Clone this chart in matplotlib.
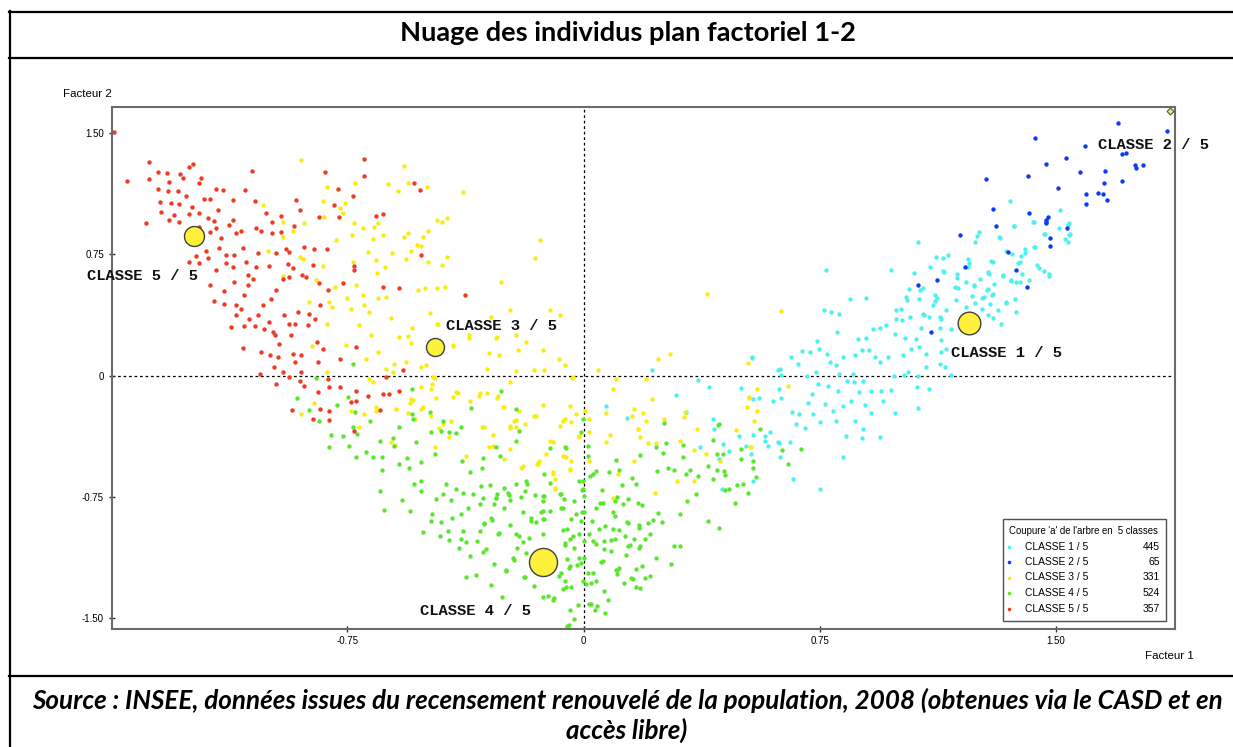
import numpy as np
import matplotlib
matplotlib.use("Agg")
import matplotlib.pyplot as plt
from matplotlib.lines import Line2D
from matplotlib.patches import Rectangle

plt.rcParams['axes.unicode_minus'] = False

# ---------------- DATA ----------------
class_names = ["CLASSE 1 / 5", "CLASSE 2 / 5", "CLASSE 3 / 5", "CLASSE 4 / 5", "CLASSE 5 / 5"]
class_counts = [445, 65, 331, 524, 357]
class_colors = ["#4ff0f0", "#0a3cf5", "#f8ec10", "#5ae62e", "#f03a24"]

class1_points = [
(0.769,0.652),(0.978,0.652),(1.062,0.828),(1.049,0.634),(1.102,0.673),(1.121,0.735),(1.142,0.646),(1.158,0.745),(1.186,0.631),(1.080,0.540),
(1.034,0.538),(1.025,0.486),(0.994,0.404),(1.009,0.414),(0.898,0.480),(0.847,0.476),(0.813,0.379),(0.787,0.393),(0.763,0.404),(0.806,0.269),
(0.743,0.213),(0.748,0.166),(0.695,0.151),(0.720,0.145),(0.658,0.114),(0.681,0.073),(0.623,0.041),(0.628,0.006),(0.534,0.106),(0.501,-0.077),
(0.557,-0.139),(0.602,-0.160),(0.628,-0.139),(0.586,-0.435),(0.575,-0.373),(0.591,-0.352),(0.617,-0.412),(0.655,-0.414),(0.625,-0.503),(0.667,-0.638),
(0.752,-0.704),(0.824,-0.503),(0.674,-0.298),(0.705,-0.326),(0.686,-0.238),(0.663,-0.228),(0.714,-0.168),(0.727,-0.114),(0.745,-0.052),(0.711,0.000),
(0.737,0.021),(0.774,0.135),(0.782,0.083),(0.803,0.068),(0.824,0.114),(0.811,0.010),(0.776,-0.062),(0.810,-0.099),(0.766,-0.176),(0.792,-0.217),
(0.801,-0.280),(0.750,-0.290),(0.729,-0.238),(0.861,0.124),(0.856,0.010),(0.837,-0.037),(0.858,-0.043),(0.888,-0.035),(0.875,-0.103),(0.851,-0.155),
(0.893,-0.180),(0.824,-0.186),(0.861,-0.280),(0.888,-0.331),(0.835,-0.373),(0.884,-0.387),(0.941,-0.381),(0.914,-0.234),(0.951,-0.155),(0.977,-0.087),
(0.946,-0.093),(0.914,-0.093),(0.991,-0.234),(1.062,-0.201),(1.059,-0.072),(1.099,-0.084),(1.018,0.006),(0.986,-0.006),(1.031,0.021),(1.062,-0.004),
(1.089,0.052),(1.131,0.073),(1.147,0.052),(1.168,0.006),(1.137,0.145),(1.153,0.166),(1.168,0.290),(1.131,0.296),(1.137,0.217),(1.089,0.135),
(1.066,0.176),(1.040,0.161),(1.014,0.124),(0.967,0.116),(0.941,0.081),(0.925,0.114),(0.906,0.155),(0.886,0.159),(0.872,0.224),(0.896,0.233),
(0.919,0.286),(0.941,0.296),(0.960,0.311),(0.988,0.255),(0.994,0.352),(1.013,0.342),(1.036,0.362),(1.020,0.232),(1.057,0.227),(1.071,0.296),
(1.080,0.379),(1.096,0.362),(1.110,0.435),(1.131,0.362),(1.122,0.480),(1.150,0.408),(1.190,0.543),(1.216,0.580),(1.239,0.553),(1.184,0.466),
(1.234,0.494),(1.216,0.424),(1.266,0.478),(1.290,0.441),(1.285,0.538),(1.301,0.507),(1.302,0.357),(1.325,0.321),(1.317,0.408),(1.343,0.449),
(1.375,0.393),(1.258,0.600),(1.288,0.631),(1.301,0.702),(1.225,0.699),(1.332,0.621),(1.362,0.752),(1.391,0.739),(1.380,0.694),(1.393,0.627),
(1.375,0.578),(1.359,0.584),(1.403,0.783),(1.433,0.797),(1.414,0.590),(1.447,0.665),(1.478,0.627),(1.539,0.932),(1.509,0.911),(1.544,0.876),
(1.539,0.828),(1.428,0.952),(1.465,0.876),(1.366,0.925),(1.320,0.855),(1.249,0.863),(1.356,1.081),(1.513,1.025),(1.430,0.948),(1.368,0.927),
(1.541,0.942),(1.541,0.873),(1.528,0.843),(1.463,0.874),(1.322,0.853),(1.256,0.890),(1.243,0.828),(1.430,0.795),(1.401,0.758),(1.343,0.772),
(1.388,0.704),(1.441,0.683),(1.464,0.650),(1.478,0.615),(1.295,0.706),(1.285,0.642),(1.221,0.719),(1.221,0.673),(1.142,0.729),(1.144,0.642),
(1.180,0.545),(1.239,0.559),(1.186,0.605),(1.282,0.531),(1.303,0.569),(1.357,0.590),(1.388,0.582),(1.370,0.472),(1.332,0.617),(1.271,0.484),
(1.299,0.497),(1.343,0.455),(1.115,0.497),(1.115,0.460),(1.067,0.474),(1.070,0.528),(1.028,0.466),(1.082,0.373),(1.137,0.352),(1.267,0.414),
(1.286,0.373),(1.243,0.447),(0.070,-0.186),(0.139,-0.263),(0.218,0.031),(0.363,-0.027),(0.398,-0.072),(0.294,-0.118),(0.326,-0.228),(0.536,0.112),
(0.540,-0.143),(0.621,-0.083),(0.618,0.035),(0.411,-0.269),(0.416,-0.331),(0.443,-0.425),(0.462,-0.466),(0.494,-0.373),(0.515,-0.435),(0.538,-0.366),
(0.533,-0.489),(0.538,-0.652),(0.430,-0.518),(0.369,-0.445),(0.441,-0.704),(0.578,-0.404),(0.620,-0.420),
]

class2_points = [
(1.195,0.870),(1.309,0.925),(1.470,0.946),(1.483,0.849),(1.481,0.801),(1.537,0.911),(1.349,0.766),(1.375,0.656),(1.409,0.548),(1.211,0.669),
(1.123,0.590),(1.062,0.559),(1.103,0.269),(1.698,1.563),(1.855,1.516),(1.433,1.470),(1.592,1.418),(1.534,1.346),(1.470,1.308),(1.712,1.373),
(1.722,1.380),(1.751,1.304),(1.755,1.285),(1.777,1.304),(1.578,1.263),(1.658,1.269),(1.412,1.236),(1.279,1.217),(1.508,1.164),(1.653,1.194),
(1.712,1.205),(1.595,1.124),(1.634,1.130),(1.650,1.124),(1.663,1.087),(1.595,1.060),(1.301,1.031),(1.415,1.008),(1.475,0.983),(1.468,0.965),
(1.470,0.952),
]

class3_points = [
(-0.897,1.335),(-0.569,1.298),(-0.622,1.184),(-0.590,1.143),(-0.558,1.190),(-0.497,1.170),(-0.384,1.139),(-0.725,1.190),(-0.815,1.170),(-0.828,1.081),
(-0.759,1.066),(-0.775,1.035),(-0.765,1.004),(-0.823,0.983),(-1.017,1.056),(-0.956,0.952),(-0.889,0.946),(-0.924,0.894),(-0.953,0.859),(-0.786,0.839),
(-0.728,0.942),(-0.664,0.921),(-0.654,0.946),(-0.735,0.870),(-0.701,0.911),(-0.638,0.870),(-0.670,0.845),(-0.569,0.859),(-0.556,0.880),(-0.511,0.859),
(-0.495,0.894),(-0.465,0.963),(-0.450,0.952),(-0.433,0.973),(-1.003,0.772),(-0.900,0.735),(-0.890,0.720),(-0.828,0.677),(-0.731,0.704),(-0.685,0.766),
(-0.659,0.714),(-0.607,0.756),(-0.632,0.669),(-0.656,0.636),(-0.563,0.720),(-0.548,0.770),(-0.495,0.704),(-0.449,0.683),(-0.433,0.735),(-0.530,0.807),
(-0.515,0.800),(-0.953,0.615),(-0.849,0.590),(-0.788,0.548),(-0.750,0.478),(-0.722,0.559),(-0.701,0.501),(-0.654,0.480),(-0.627,0.486),(-0.527,0.528),
(-0.502,0.542),(-0.465,0.542),(-0.440,0.548),(-0.807,0.455),(-0.799,0.424),(-0.873,0.455),(-0.738,0.414),(-0.696,0.435),(-0.680,0.393),(-0.611,0.356),
(-0.714,0.311),(-0.675,0.253),(-0.754,0.190),(-0.862,0.182),(-0.816,0.321),(-0.544,0.294),(-0.585,0.238),(-0.558,0.244),(-0.548,0.203),(-0.489,0.389),
(-0.465,0.321),(-0.415,0.186),(-0.364,0.248),(-0.690,0.104),(-0.654,0.145),(-0.601,0.073),(-0.606,0.021),(-0.627,0.041),(-0.563,0.083),(-0.515,0.050),
(-0.500,0.062),(-0.477,-0.010),(-0.516,-0.072),(-0.484,-0.083),(-0.548,-0.145),(-0.550,-0.170),(-0.405,-0.103),(-0.415,-0.134),(-0.333,-0.124),(-0.360,-0.160),
(-0.511,-0.197),(-0.484,-0.248),(-0.420,-0.280),(-0.534,-0.269),(-0.595,-0.205),(-0.659,-0.197),(-0.696,-0.238),(-0.738,-0.217),(-0.855,-0.172),(-0.897,-0.238),
(-0.682,-0.021),(-0.670,-0.040),(-0.816,0.021),(-0.293,0.362),(-0.232,0.408),(-0.108,0.404),(-0.076,0.373),(-0.463,0.317),(-0.364,0.232),(-0.277,0.234),
(-0.214,0.248),(-0.182,0.207),(-0.413,0.180),(-0.299,0.139),(-0.267,0.130),(-0.209,0.155),(-0.129,0.155),(-0.078,0.104),(-0.060,0.066),(-0.307,0.041),
(-0.214,0.025),(-0.156,0.031),(-0.127,0.035),(0.045,0.031),(-0.036,-0.014),(-0.473,-0.014),(-0.481,-0.052),(-0.235,-0.041),(-0.272,-0.124),(-0.330,-0.110),
(-0.399,-0.110),(-0.468,-0.141),(-0.542,-0.149),(0.104,-0.021),(0.199,-0.021),(0.093,-0.083),(-0.129,-0.180),(-0.044,-0.186),(-0.251,-0.197),(-0.206,-0.217),
(-0.156,-0.253),(-0.060,-0.269),(-0.025,-0.238),(0.019,-0.269),(0.070,-0.234),(0.162,-0.207),(0.199,-0.280),(0.173,-0.331),(0.204,-0.420),(0.083,-0.366),
(0.070,-0.414),(0.017,-0.352),(-0.015,-0.373),(0.019,-0.528),(-0.044,-0.580),(-0.098,-0.410),(-0.119,-0.487),(-0.066,-0.497),(-0.039,-0.528),(-0.146,-0.549),
(-0.098,-0.600),(-0.092,-0.642),(-0.092,-0.698),(0.109,-0.611),(0.162,-0.528),(-0.193,-0.559),(-0.324,-0.321),(-0.288,-0.366),(-0.235,-0.311),(-0.214,-0.276),
(-0.299,-0.445),(-0.235,-0.456),(-0.373,-0.497),(-0.473,-0.445),(-0.516,-0.207),(-0.447,-0.300),(-0.426,-0.383),(-0.458,-0.323),(-0.611,-0.414),(-0.600,-0.430),
(-0.712,-0.321),(-0.597,-0.207),(-0.660,-0.220),(-0.558,-0.234),(-0.214,-0.321),(-0.262,0.580),(0.393,0.507),(-0.276,0.238),(-0.034,-0.010),(0.236,0.104),
(0.275,0.135),(0.218,-0.143),(0.189,-0.234),(0.154,-0.248),(0.255,-0.269),(0.319,-0.259),(0.361,-0.331),(0.321,-0.228),(0.174,-0.333),(0.180,-0.383),
(0.229,-0.420),(0.305,-0.404),(0.350,-0.462),(0.388,-0.487),(0.485,-0.335),(0.520,-0.193),(0.525,-0.139),(0.551,-0.083),(0.551,-0.222),(0.543,-0.284),
(0.530,-0.441),(0.434,-0.528),(0.298,-0.652),(0.350,-0.656),(0.226,-0.725),(0.093,-0.760),(-0.014,-0.379),(0.006,-0.222),(-0.039,-0.286),(-0.066,-0.280),
(-0.076,-0.311),(-0.150,-0.248),(-0.187,-0.300),(-0.222,-0.282),(-0.234,-0.327),(-0.315,-0.321),(-0.308,-0.110),(-0.275,-0.137),(-0.256,-0.197),(-0.286,-0.438),
(-0.254,-0.518),(-0.197,-0.571),(-0.149,-0.547),(-0.140,-0.528),(-0.105,-0.404),(-0.098,-0.607),(-0.089,-0.704),(-0.055,-0.507),(-0.044,-0.586),(0.628,0.397),
(0.522,0.076),(0.527,-0.134),(0.649,-0.066),(0.533,-0.445),(-0.137,0.839),(-0.153,0.727),
]

class4_points = [
(-0.733,0.073),(-0.849,-0.014),(-0.910,-0.139),(-0.871,-0.213),(-0.841,-0.284),(-0.784,-0.180),(-0.748,-0.134),(-0.725,-0.228),(-0.802,-0.370),(-0.807,-0.445),
(-0.763,-0.373),(-0.744,-0.435),(-0.731,-0.321),(-0.720,-0.360),(-0.722,-0.507),(-0.690,-0.472),(-0.670,-0.503),(-0.679,-0.284),(-0.648,-0.404),(-0.640,-0.503),
(-0.640,-0.586),(-0.646,-0.714),(-0.635,-0.832),(-0.604,-0.385),(-0.602,-0.435),(-0.585,-0.319),(-0.544,-0.238),(-0.542,-0.269),(-0.544,-0.083),(-0.585,-0.549),
(-0.562,-0.509),(-0.553,-0.570),(-0.532,-0.412),(-0.515,-0.538),(-0.488,-0.226),(-0.484,-0.352),(-0.473,-0.487),(-0.447,-0.280),(-0.452,-0.342),(-0.428,-0.352),
(-0.405,-0.358),(-0.389,-0.317),(-0.385,-0.528),(-0.361,-0.600),(-0.321,-0.570),(-0.320,-0.510),(-0.277,-0.441),(-0.265,-0.499),(-0.214,-0.207),(-0.214,-0.404),
(-0.262,-0.093),(-0.357,-0.201),(-0.538,-0.673),(-0.515,-0.714),(-0.516,-0.652),(-0.470,-0.764),(-0.576,-0.772),(-0.550,-0.839),(-0.481,-0.855),(-0.418,-0.880),
(-0.389,-0.855),(-0.368,-0.818),(-0.453,-0.907),(-0.484,-0.901),(-0.511,-0.967),(-0.455,-0.994),(-0.428,-1.021),(-0.394,-1.070),(-0.362,-1.118),(-0.373,-1.029),
(-0.339,-1.025),(-0.315,-0.917),(-0.294,-0.880),(-0.283,-0.797),(-0.277,-0.756),(-0.235,-0.770),(-0.251,-0.823),(-0.272,-0.983),(-0.309,-1.077),(-0.283,-1.166),
(-0.293,-1.298),(-0.260,-1.373),(-0.373,-1.248),(-0.341,-1.236),(-0.246,-1.213),(-0.222,-1.145),(-0.211,-1.066),(-0.214,-0.983),(-0.193,-1.029),(-0.182,-1.097),
(-0.187,-1.248),(-0.156,-1.304),(-0.129,-1.373),(-0.098,-1.390),(-0.047,-1.543),(-0.044,-1.455),(-0.018,-1.418),(-0.039,-1.311),(-0.060,-1.273),(-0.073,-1.224),
(-0.051,-1.137),(-0.044,-1.180),(-0.007,-1.160),(0.003,-1.128),(-0.002,-1.273),(0.014,-1.222),(0.009,-1.294),(0.019,-1.414),(0.042,-1.429),(0.067,-1.470),
(0.064,-1.335),(0.077,-1.387),(0.040,-1.273),(0.061,-1.149),(0.108,-1.202),(0.130,-1.284),(0.152,-1.253),(0.167,-1.201),(0.167,-1.312),(0.194,-1.253),
(0.141,-1.056),(0.178,-1.056),(0.064,-1.077),(0.086,-1.017),(0.030,-1.025),(0.048,-0.952),(0.093,-0.952),(0.133,-0.994),(0.141,-0.911),(0.175,-0.944),
(0.204,-0.911),(0.061,-0.787),(0.099,-0.776),(0.141,-0.766),(0.173,-0.787),(0.095,-0.845),(0.003,-0.843),(-0.007,-0.901),(-0.023,-0.859),(-0.029,-0.776),
(-0.040,-0.890),(-0.063,-0.762),(-0.066,-0.818),(-0.066,-0.959),(-0.060,-1.050),(-0.005,-0.708),(-0.002,-0.652),(0.030,-0.611),(0.003,-0.745),(0.059,-0.708),
(0.121,-0.677),(0.154,-0.637),(0.081,-0.600),(0.112,-0.586),(0.167,-0.673),(0.180,-0.491),(0.104,-0.524),(0.014,-0.435),(-0.002,-0.269),(-0.007,-0.352),
(-0.060,-0.445),(-0.124,-0.611),(-0.129,-0.745),(-0.129,-0.837),(-0.129,-0.891),(-0.129,-0.983),(-0.193,-0.843),(-0.166,-0.901),(-0.150,-0.910),(-0.187,-0.718),
(-0.214,-0.673),(-0.180,-0.670),(-0.251,-0.694),(-0.240,-0.730),(-0.276,-0.731),(-0.296,-0.677),(-0.325,-0.683),(-0.384,-0.725),(-0.405,-0.704),(-0.436,-0.669),
(-0.447,-0.735),(-0.420,-0.770),(-0.352,-0.735),(-0.330,-0.797),(-0.320,-0.760),(-0.384,-0.963),(-0.330,-0.963),(-0.430,-0.960),(-0.390,-1.010),(-0.108,-0.663),
(-0.071,-0.733),(-0.130,-0.780),(-0.034,-0.994),(-0.013,-0.983),(0.003,-1.025),(-0.205,-0.342),(-0.105,-0.452),(-0.057,-0.450),(0.014,-0.497),(-0.013,-0.652),
(-0.002,-0.704),(0.021,-0.621),(0.040,-0.590),(0.231,-0.441),(0.255,-0.295),(0.261,-0.420),(0.254,-0.482),(0.235,-0.590),(0.270,-0.570),(0.289,-0.588),
(0.316,-0.433),(0.316,-0.507),(0.339,-0.586),(0.326,-0.611),(0.363,-0.621),(0.395,-0.559),(0.424,-0.585),(0.411,-0.642),(0.423,-0.484),(0.427,-0.304),
(0.411,-0.400),(0.448,-0.615),(0.451,-0.708),(0.487,-0.677),(0.506,-0.673),(0.522,-0.725),(0.540,-0.570),(0.562,-0.331),(0.501,-0.456),(0.480,-0.787),
(0.432,-0.942),(0.395,-0.901),(0.358,-0.735),(0.328,-0.776),(0.307,-0.859),(0.287,-1.056),(0.308,-1.056),(0.279,-1.166),(0.249,-0.907),(0.238,-0.851),
(0.222,-0.894),(0.186,-0.799),(0.175,-0.925),(0.162,-1.015),(0.194,-1.015),(0.210,-0.983),(0.229,-1.130),(0.186,-1.180),(0.212,-1.242),(0.157,-1.263),
(0.178,-1.314),(0.136,-1.112),(0.148,-1.050),(0.176,-1.066),(0.114,-1.191),(0.102,-1.205),(0.086,-1.087),(0.099,-1.015),(0.067,-0.932),(0.066,-1.025),
(0.040,-1.046),(0.056,-1.153),(0.030,-1.222),(0.024,-1.284),(0.025,-1.416),(0.038,-1.450),(-0.052,-1.553),(-0.029,-1.505),(-0.078,-1.242),(-0.064,-1.325),
(-0.095,-1.379),(-0.113,-1.366),(-0.190,-1.245),(-0.225,-1.128),(-0.246,-1.205),(-0.320,-1.091),(-0.315,-0.916),(-0.290,-0.897),(-0.268,-0.978),(-0.232,-0.925),
(-0.205,-0.994),(-0.172,-1.004),(-0.166,-0.884),(-0.134,-0.843),(-0.106,-0.839),(-0.124,-0.891),(-0.071,-0.818),(-0.054,-0.950),(-0.044,-1.015),(-0.060,-1.040),
(-0.029,-1.066),(-0.013,-1.133),(-0.022,-1.174),(-0.047,-1.195),(-0.055,-1.311),(-0.006,-0.845),(-0.075,-0.733),(-0.127,-0.745),(-0.154,-0.739),(-0.182,-0.652),
(-0.238,-0.739),(-0.279,-0.761),(-0.200,-0.750),(0.051,-0.787),(0.105,-0.754),(0.127,-0.793),(0.099,-0.870),(0.138,-0.907),(0.114,-0.959),(0.108,-1.230),
(0.040,-0.818),(0.028,-0.901),(0.019,-0.983),(0.631,-0.462),(0.649,-0.545),(0.690,-0.453),(0.549,-0.631),(0.538,-0.528),(0.501,-0.518),(0.461,-0.702),
(0.445,-0.590),(0.443,-0.487),(0.432,-0.300),
]

class5_points = [
(-1.490,1.505),(-1.381,1.325),(-1.451,1.205),(-1.353,1.263),(-1.324,1.253),(-1.282,1.247),(-1.252,1.288),(-1.241,1.308),(-1.379,1.217),(-1.316,1.201),
(-1.273,1.221),(-1.215,1.225),(-1.353,1.155),(-1.321,1.143),(-1.289,1.143),(-1.263,1.114),(-1.220,1.190),(-1.344,1.077),(-1.310,1.070),(-1.284,1.062),
(-1.243,1.045),(-1.204,1.091),(-1.188,1.091),(-1.167,1.153),(-1.146,1.149),(-1.342,1.010),(-1.300,0.994),(-1.252,0.998),(-1.220,1.004),(-1.162,1.025),
(-1.112,1.087),(-1.075,1.149),(-1.053,1.268),(-1.390,0.942),(-1.316,0.963),(-1.284,0.952),(-1.194,0.973),(-1.173,0.957),(-1.125,0.932),(-1.114,0.963),
(-1.045,1.081),(-1.220,0.921),(-1.188,0.890),(-1.167,0.915),(-1.151,0.849),(-1.104,0.880),(-1.088,0.894),(-1.040,0.915),(-1.024,0.894),(-0.989,0.880),
(-0.961,0.890),(-0.989,0.948),(-0.961,0.989),(-1.008,1.008),(-0.913,1.087),(-0.900,1.025),(-0.920,0.927),(-0.820,1.258),(-0.781,1.155),(-0.696,1.340),
(-0.696,1.236),(-0.731,1.114),(-0.791,1.056),(-0.839,0.980),(-0.778,0.980),(-0.659,0.989),(-0.636,1.000),(-0.539,1.194),(-0.518,1.149),(-0.375,0.497),
(-1.157,0.787),(-1.199,0.770),(-1.231,0.741),(-1.252,0.700),(-1.220,0.694),(-1.194,0.729),(-1.167,0.652),(-1.135,0.745),(-1.109,0.745),(-1.083,0.787),
(-1.072,0.704),(-1.135,0.694),(-1.114,0.669),(-1.188,0.559),(-1.141,0.522),(-1.173,0.460),(-1.141,0.445),(-1.067,0.621),(-1.051,0.596),(-1.111,0.580),
(-1.067,0.559),(-1.077,0.497),(-1.040,0.673),(-0.998,0.679),(-1.035,0.756),(-0.977,0.756),(-0.945,0.783),(-0.934,0.766),(-0.940,0.688),(-0.924,0.663),
(-0.956,0.600),(-0.934,0.611),(-0.894,0.621),(-0.883,0.611),(-0.860,0.683),(-0.887,0.797),(-0.855,0.783),(-0.816,0.783),(-0.839,0.573),(-0.812,0.528),
(-0.765,0.573),(-0.728,0.679),(-0.728,0.652),(-0.638,0.548),(-0.585,0.542),(-0.516,0.745),(-1.104,0.439),(-1.088,0.414),(-1.104,0.377),(-1.063,0.352),
(-1.035,0.373),(-1.120,0.300),(-1.077,0.306),(-1.045,0.306),(-1.016,0.286),(-0.998,0.331),(-0.987,0.269),(-0.980,0.253),(-1.019,0.435),(-0.992,0.476),
(-0.977,0.528),(-0.950,0.377),(-0.934,0.321),(-0.918,0.321),(-0.876,0.315),(-0.852,0.352),(-0.837,0.435),(-0.908,0.393),(-0.871,0.383),(-0.929,0.248),
(-0.966,0.197),(-0.996,0.129),(-0.971,0.114),(-0.924,0.135),(-0.897,0.124),(-0.918,0.083),(-0.982,0.052),(-0.956,0.021),(-0.897,0.021),(-1.027,0.010),
(-1.083,0.170),(-1.024,0.145),(-0.847,0.207),(-0.828,0.166),(-0.844,0.083),(-0.775,0.104),(-0.722,0.176),(-0.977,-0.052),(-0.934,-0.010),(-0.902,-0.031),
(-0.887,-0.062),(-0.812,-0.021),(-0.807,-0.072),(-0.775,-0.072),(-0.844,-0.103),(-0.722,-0.099),(-0.685,-0.130),(-0.638,-0.114),(-0.619,-0.114),(-0.585,-0.099),
(-0.574,0.031),(-0.627,-0.010),(-0.722,-0.155),(-0.926,-0.211),(-0.837,-0.207),(-0.858,-0.269),(-0.807,-0.273),(-0.648,-0.211),(-0.740,-0.166),(-0.807,-0.222),
(-0.730,-0.342),
]

centroid_x = [1.224, 1.863, -0.472, -0.129, -1.237]
centroid_y = [0.325, 1.638, 0.176, -1.155, 0.864]
centroid_size = [266, 12, 169, 408, 207]

xtick_values = [-0.75, 0, 0.75, 1.50]
xtick_labels = ["-0.75", "0", "0.75", "1.50"]
ytick_values = [-1.50, -0.75, 0, 0.75, 1.50]
ytick_labels = ["-1.50", "-0.75", "0", "0.75", "1.50"]

title = "Nuage des individus plan factoriel 1-2"
source_1 = "Source : INSEE, données issues du recensement renouvelé de la population, 2008 (obtenues via le CASD et en"
source_2 = "accès libre)"
legend_title = "Coupure 'a' de l'arbre en  5 classes"

# ---------------- FIGURE ----------------
W, H = 1233, 747
fig = plt.figure(figsize=(W / 100, H / 100), dpi=100)
fig.patch.set_facecolor("white")

def fx(px):
    return px / W

def fy(py):
    return 1 - py / H

renderer = fig.canvas.get_renderer()

def fit(t, target_px):
    bb = t.get_window_extent(renderer)
    if bb.width > 0:
        t.set_fontsize(t.get_fontsize() * target_px / bb.width)

# page frame lines
for (x0, y0, x1, y1) in [(9, 12, 1233, 12), (9, 58, 1233, 58), (9, 676, 1233, 676), (10, 11, 10, 747)]:
    fig.add_artist(Line2D([fx(x0), fx(x1)], [fy(y0), fy(y1)], color="black", lw=1.6,
                          transform=fig.transFigure))

t = fig.text(fx(628), fy(33), title, ha="center", va="center", family="Lato",
             fontweight="bold", fontsize=16)
fit(t, 458)
s1 = fig.text(fx(627), fy(700), source_1, ha="center", va="center", family="Lato",
              fontweight="bold", style="italic", fontsize=14)
fit(s1, 1189)
s2 = fig.text(fx(627), fy(730), source_2, ha="center", va="center", family="Lato",
              fontweight="bold", style="italic", fontsize=s1.get_fontsize())

# axes
L, R, T, B = 111.7, 1175, 106.7, 629
ax = fig.add_axes([fx(L), fy(B), (R - L) / W, (B - T) / H])
x0, sx = 583.5, 314.8
y0, sy = 375.5, 161.5
ax.set_xlim((L - x0) / sx, (R - x0) / sx)
ax.set_ylim((y0 - B) / sy, (y0 - T) / sy)

for sp in ax.spines.values():
    sp.set_color("#6a6a6a")
    sp.set_linewidth(1.5)

ax.axhline(0, color="black", lw=0.9, ls=(0, (2.2, 2.2)), zorder=1)
ax.axvline(0, color="black", lw=0.9, ls=(0, (2.2, 2.2)), zorder=1)

all_points = [class1_points, class2_points, class3_points, class4_points, class5_points]
for pts, col in zip(all_points, class_colors):
    arr = np.array(pts)
    ax.scatter(arr[:, 0], arr[:, 1], s=10, c=col, linewidths=0, zorder=2)

# centroids
for i in range(5):
    if i == 1:
        ax.scatter([centroid_x[i]], [centroid_y[i]], s=centroid_size[i], marker="D",
                   c="#fff03c", edgecolors="#505050", linewidths=0.8, zorder=4, clip_on=False)
    else:
        ax.scatter([centroid_x[i]], [centroid_y[i]], s=centroid_size[i], c="#fff03c",
                   edgecolors="#404040", linewidths=1.0, zorder=4)

label_offsets = [(-18, -30), (-72, -34), (11, 21), (-123, -49), (-107, -40)]
for i in range(5):
    a = ax.annotate(class_names[i], xy=(centroid_x[i], centroid_y[i]), xytext=label_offsets[i],
                    textcoords="offset pixels", ha="left", va="center", family="Liberation Mono",
                    fontweight="bold", fontsize=11, color="#111111", zorder=5,
                    annotation_clip=False)
    fit(a, 111)

ax.set_xticks(xtick_values)
ax.set_xticklabels(xtick_labels)
ax.set_yticks(ytick_values)
ax.set_yticklabels(ytick_labels)
ax.tick_params(direction="inout", length=4.3, width=1, color="#303030")
ax.tick_params(axis="x", pad=3.0)
ax.tick_params(axis="y", pad=3.4)
for lab in ax.get_xticklabels() + ax.get_yticklabels():
    lab.set_family("Liberation Sans")
    lab.set_fontsize(7)

f2 = fig.text(fx(62.7), fy(94), "Facteur 2", ha="left", va="center", family="Liberation Sans", fontsize=8)
fit(f2, 49)
f1 = fig.text(fx(1145), fy(656), "Facteur 1", ha="left", va="center", family="Liberation Sans",
              fontsize=f2.get_fontsize())

# legend box
lx0, ly0, lx1, ly1 = 1003, 518.5, 1166, 620.5
fig.add_artist(Rectangle((fx(lx0), fy(ly1)), (lx1 - lx0) / W, (ly1 - ly0) / H, transform=fig.transFigure,
                         facecolor="white", edgecolor="#505050", lw=1.0, zorder=10))
lt = fig.text(fx(1009), fy(531), legend_title, ha="left", va="center", family="Liberation Sans",
              fontsize=7, zorder=11)
fit(lt, 151)
row_y = [547, 562, 577.5, 593, 609]
for i in range(5):
    fig.add_artist(Line2D([fx(1009)], [fy(row_y[i])], marker="o", ms=2.6, color=class_colors[i],
                          mec="none", transform=fig.transFigure, zorder=11))
    fig.text(fx(1025), fy(row_y[i]), class_names[i], ha="left", va="center", family="Liberation Sans",
             fontsize=7.4, zorder=11)
    fig.text(fx(1160), fy(row_y[i]), str(class_counts[i]), ha="right", va="center",
             family="Liberation Sans", fontsize=7.4, zorder=11)

fig.savefig("out.png", dpi=100)
